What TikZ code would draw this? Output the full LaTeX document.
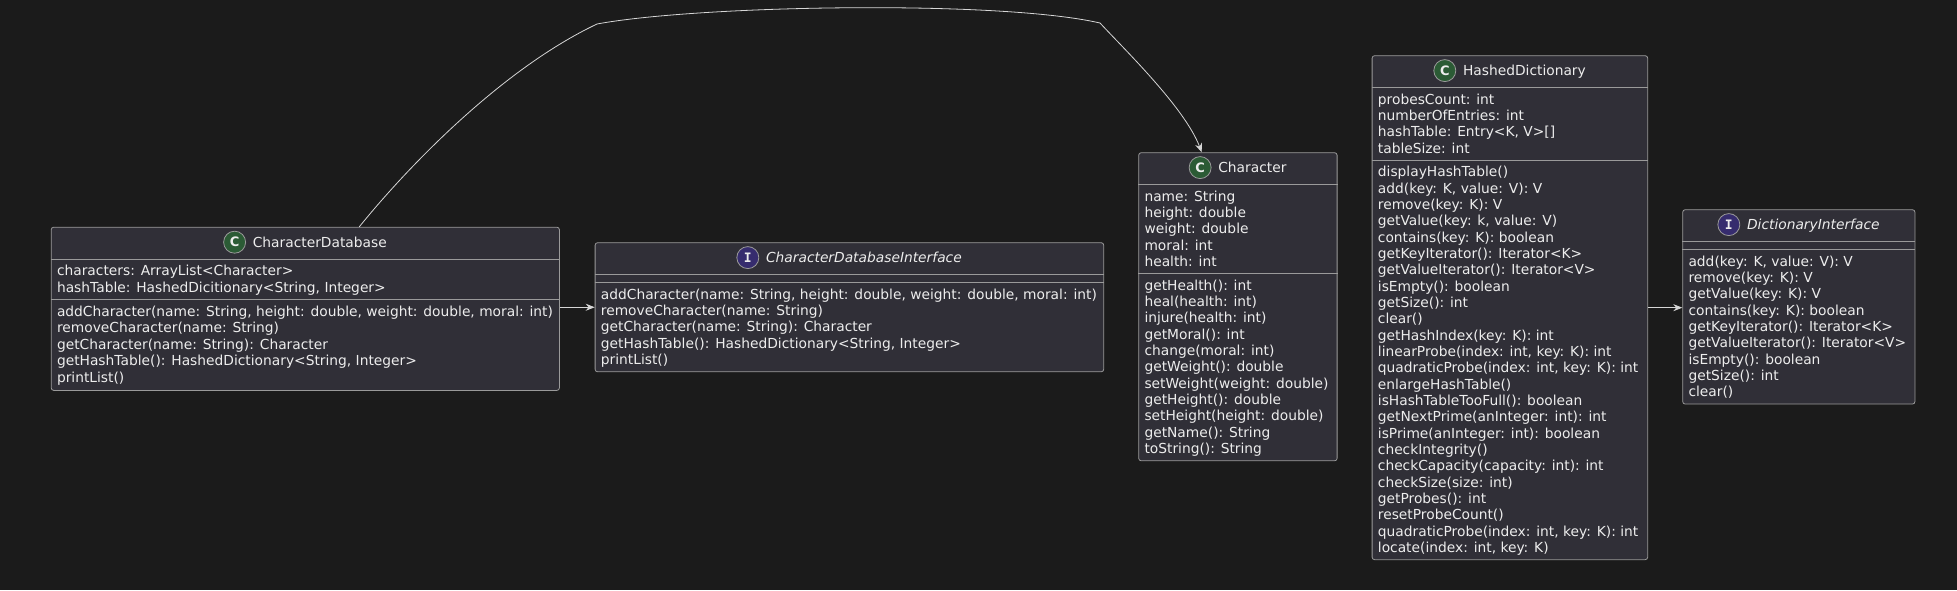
\documentclass[tikz,border=0pt]{standalone}
\usepackage{fontspec}
\setmainfont{DejaVu Sans}
\newfontfamily\monofam{DejaVu Sans Mono}
\usetikzlibrary{calc,arrows.meta}
\definecolor{bg}{HTML}{1B1B1B}
\definecolor{boxfill}{HTML}{302F37}
\definecolor{boxline}{HTML}{9A9A9A}
\definecolor{txtc}{HTML}{EDEDED}
\definecolor{cgreen}{HTML}{2B5B35}
\definecolor{ipurple}{HTML}{362C6E}
\definecolor{linec}{HTML}{D6D6D6}
\begin{document}
\begin{tikzpicture}[x=1pt,y=-1pt,
 classbox/.style={draw=boxline, fill=boxfill, line width=0.8pt, rounded corners=2.5pt, inner sep=0pt, anchor=north west},
 sepline/.style={draw=boxline, line width=0.8pt},
 txt/.style={text=txtc, inner sep=0pt, anchor=base west, font=\fontsize{13.8}{16.32}\selectfont},
 ttl/.style={text=txtc, inner sep=0pt, anchor=base, font=\fontsize{13.8}{16.32}\selectfont},
 circ/.style={circle, draw=boxline, line width=0.8pt, minimum size=22pt, inner sep=0pt, text=txtc, font=\fontsize{13}{13}\selectfont\bfseries},
 arr/.style={draw=linec, line width=0.8pt, -{Stealth[length=9pt,width=7pt,inset=3pt]}}
]
\fill[bg] (0,0) rectangle (1957,590);
\useasboundingbox (0,0) rectangle (1957,590);

% ---------- CharacterDatabase ----------
\node[classbox, minimum width=508.2pt, minimum height=163.2pt] (cd) at (50.8,226.8) {};
\draw[sepline] ([yshift=-32.1pt]cd.north west) -- ([yshift=-32.1pt]cd.north east);
\draw[sepline] ([yshift=-72.6pt]cd.north west) -- ([yshift=-72.6pt]cd.north east);
\node[ttl] (cdT) at ($(cd.north)+(14.5,20.6)$) {CharacterDatabase};
\node[circ, fill=cgreen] (cdC) at ($(cdT.base west)+(-18,-5.2)$) {C};
\foreach \t [count=\i from 0] in {{characters: ArrayList<Character>},{hashTable: HashedDicitionary<String, Integer>}}
  \node[txt] (cdA\i) at ($(cd.north west)+(6,{49.1+\i*16.4})$) {\t};
\foreach \t [count=\i from 0] in {{addCharacter(name: String, height: double, weight: double, moral: int)},{removeCharacter(name: String)},{getCharacter(name: String): Character},{getHashTable(): HashedDictionary<String, Integer>},{printList()}}
  \node[txt] (cdM\i) at ($(cd.north west)+(6,{89.6+\i*16.4})$) {\t};

% ---------- CharacterDatabaseInterface ----------
\node[classbox, minimum width=508.6pt, minimum height=129.1pt] (cdi) at (594.7,242.3) {};
\draw[sepline] ([yshift=-32pt]cdi.north west) -- ([yshift=-32pt]cdi.north east);
\draw[sepline] ([yshift=-40pt]cdi.north west) -- ([yshift=-40pt]cdi.north east);
\node[ttl] (cdiT) at ($(cdi.north)+(14.5,20.5)$) {\itshape CharacterDatabaseInterface};
\node[circ, fill=ipurple] (cdiC) at ($(cdiT.base west)+(-18,-5.2)$) {\monofam\bfseries I};
\foreach \t [count=\i from 0] in {{addCharacter(name: String, height: double, weight: double, moral: int)},{removeCharacter(name: String)},{getCharacter(name: String): Character},{getHashTable(): HashedDictionary<String, Integer>},{printList()}}
  \node[txt] (cdiM\i) at ($(cdi.north west)+(6,{56.9+\i*16.32})$) {\t};

% ---------- Character ----------
\node[classbox, minimum width=198.4pt, minimum height=308.1pt] (ch) at (1138.3,152.3) {};
\draw[sepline] ([yshift=-32pt]ch.north west) -- ([yshift=-32pt]ch.north east);
\draw[sepline] ([yshift=-121.1pt]ch.north west) -- ([yshift=-121.1pt]ch.north east);
\node[ttl] (chT) at ($(ch.north)+(14.5,20.5)$) {Character};
\node[circ, fill=cgreen] (chC) at ($(chT.base west)+(-18,-5.2)$) {C};
\foreach \t [count=\i from 0] in {{name: String},{height: double},{weight: double},{moral: int},{health: int}}
  \node[txt] (chA\i) at ($(ch.north west)+(6,{48.9+\i*16.32})$) {\t};
\foreach \t [count=\i from 0] in {{getHealth(): int},{heal(health: int)},{injure(health: int)},{getMoral(): int},{change(moral: int)},{getWeight(): double},{setWeight(weight: double)},{getHeight(): double},{setHeight(height: double)},{getName(): String},{toString(): String}}
  \node[txt] (chM\i) at ($(ch.north west)+(6,{138.0+\i*16.32})$) {\t};

% ---------- HashedDictionary ----------
\node[classbox, minimum width=275.6pt, minimum height=503.96pt] (hd) at (1371.7,55.3) {};
\draw[sepline] ([yshift=-32pt]hd.north west) -- ([yshift=-32pt]hd.north east);
\draw[sepline] ([yshift=-104.78pt]hd.north west) -- ([yshift=-104.78pt]hd.north east);
\node[ttl] (hdT) at ($(hd.north)+(14.5,20.5)$) {HashedDictionary};
\node[circ, fill=cgreen] (hdC) at ($(hdT.base west)+(-18,-5.2)$) {C};
\foreach \t [count=\i from 0] in {{probesCount: int},{numberOfEntries: int},{hashTable: Entry<K, V>[]},{tableSize: int}}
  \node[txt] (hdA\i) at ($(hd.north west)+(6,{48.9+\i*16.32})$) {\t};
\foreach \t [count=\i from 0] in {{displayHashTable()},{add(key: K, value: V): V},{remove(key: K): V},{getValue(key: k, value: V)},{contains(key: K): boolean},{getKeyIterator(): Iterator<K>},{getValueIterator(): Iterator<V>},{isEmpty(): boolean},{getSize(): int},{clear()},{getHashIndex(key: K): int},{linearProbe(index: int, key: K): int},{quadraticProbe(index: int, key: K): int},{enlargeHashTable()},{isHashTableTooFull(): boolean},{getNextPrime(anInteger: int): int},{isPrime(anInteger: int): boolean},{checkIntegrity()},{checkCapacity(capacity: int): int},{checkSize(size: int)},{getProbes(): int},{resetProbeCount()},{quadraticProbe(index: int, key: K): int},{locate(index: int, key: K)}}
  \node[txt] (hdM\i) at ($(hd.north west)+(6,{121.68+\i*16.32})$) {\t};

% ---------- DictionaryInterface ----------
\node[classbox, minimum width=232.2pt, minimum height=194.38pt] (di) at (1682.3,209.3) {};
\draw[sepline] ([yshift=-32pt]di.north west) -- ([yshift=-32pt]di.north east);
\draw[sepline] ([yshift=-40pt]di.north west) -- ([yshift=-40pt]di.north east);
\node[ttl] (diT) at ($(di.north)+(14.5,20.5)$) {\itshape DictionaryInterface};
\node[circ, fill=ipurple] (diC) at ($(diT.base west)+(-18,-5.2)$) {\monofam\bfseries I};
\foreach \t [count=\i from 0] in {{add(key: K, value: V): V},{remove(key: K): V},{getValue(key: K): V},{contains(key: K): boolean},{getKeyIterator(): Iterator<K>},{getValueIterator(): Iterator<V>},{isEmpty(): boolean},{getSize(): int},{clear()}}
  \node[txt] (diM\i) at ($(di.north west)+(6,{56.9+\i*16.32})$) {\t};

% ---------- Connectors ----------
\draw[arr] (cdi.west -| cd.east) -- (cdi.west);
\draw[arr] (hd.east) -- (hd.east -| di.west);
\draw[arr] ([xshift=308.5pt]cd.north west)
  .. controls +(46,-57) and +(-97,46) .. (597,24)
  .. controls (700,5) and (1000,0) .. (1100,23)
  .. controls (1125,50) and (1185,108) .. ([xshift=63.4pt]ch.north west);
\end{tikzpicture}
\end{document}
